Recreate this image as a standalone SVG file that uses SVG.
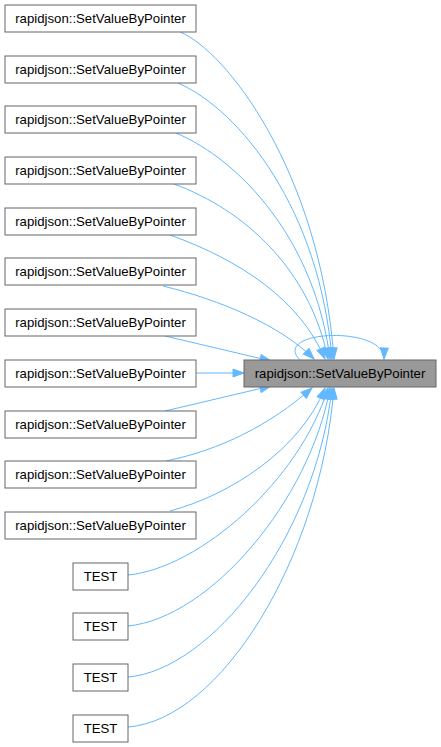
<svg xmlns="http://www.w3.org/2000/svg" width="441" height="747" viewBox="0 0 441 747">
<style>
.n rect{fill:#ffffff;stroke:#666666;stroke-width:1}
.m rect{fill:#999999;stroke:#666666;stroke-width:1}
text{font-family:"Liberation Sans",Arial,sans-serif;font-size:13.2px;fill:#000000;text-anchor:middle}
.e path{fill:none;stroke:#63b8ff;stroke-width:1;marker-end:url(#a)}
</style>
<defs>
<marker id="a" markerUnits="userSpaceOnUse" markerWidth="12" markerHeight="9" refX="11" refY="4" orient="auto" overflow="visible">
<path d="M0,0 L11,4 L0,8 z" fill="#63b8ff" stroke="#63b8ff" stroke-width="1"/>
</marker>
</defs>
<rect width="441" height="747" fill="#ffffff"/>
<g id="edges" class="e">
<path d="M180,32 C225,50 320,170 334,359"/>
<path d="M178,83 C240,110 320,210 332,359"/>
<path d="M176,133 C240,160 315,240 330,359"/>
<path d="M174,184 C245,210 310,270 328,359"/>
<path d="M170,235 C240,260 300,300 325,359"/>
<path d="M163,286 C220,300 280,325 314,359"/>
<path d="M165,336 L271,361"/>
<path d="M196,373 L244,373"/>
<path d="M165,411 L271,386"/>
<path d="M166,461 C220,450 270,425 312,388"/>
<path d="M170,511 C230,495 300,450 325,388"/>
<path d="M128,575 C200,568 300,480 328,388"/>
<path d="M128,626 C210,618 310,500 330,388"/>
<path d="M128,677 C210,670 315,540 332,388"/>
<path d="M128,727 C220,720 320,560 334,388"/>
<path d="M300,360 C270,330 385,325 384,359"/>
</g>
<g id="node0" class="n"><rect x="5" y="5" width="191" height="27"/><text x="100.5" y="23">rapidjson::SetValueByPointer</text></g>
<g id="node1" class="n"><rect x="5" y="56" width="191" height="27"/><text x="100.5" y="74">rapidjson::SetValueByPointer</text></g>
<g id="node2" class="n"><rect x="5" y="106" width="191" height="27"/><text x="100.5" y="124">rapidjson::SetValueByPointer</text></g>
<g id="node3" class="n"><rect x="5" y="157" width="191" height="27"/><text x="100.5" y="175">rapidjson::SetValueByPointer</text></g>
<g id="node4" class="n"><rect x="5" y="208" width="191" height="27"/><text x="100.5" y="226">rapidjson::SetValueByPointer</text></g>
<g id="node5" class="n"><rect x="5" y="258" width="191" height="27"/><text x="100.5" y="276">rapidjson::SetValueByPointer</text></g>
<g id="node6" class="n"><rect x="5" y="309" width="191" height="27"/><text x="100.5" y="327">rapidjson::SetValueByPointer</text></g>
<g id="node7" class="n"><rect x="5" y="360" width="191" height="27"/><text x="100.5" y="378">rapidjson::SetValueByPointer</text></g>
<g id="node8" class="n"><rect x="5" y="411" width="191" height="27"/><text x="100.5" y="429">rapidjson::SetValueByPointer</text></g>
<g id="node9" class="n"><rect x="5" y="461" width="191" height="27"/><text x="100.5" y="479">rapidjson::SetValueByPointer</text></g>
<g id="node10" class="n"><rect x="5" y="512" width="191" height="27"/><text x="100.5" y="530">rapidjson::SetValueByPointer</text></g>
<g id="test0" class="n"><rect x="73" y="563" width="55" height="27"/><text x="100.5" y="581">TEST</text></g>
<g id="test1" class="n"><rect x="73" y="613" width="55" height="27"/><text x="100.5" y="631">TEST</text></g>
<g id="test2" class="n"><rect x="73" y="664" width="55" height="27"/><text x="100.5" y="682">TEST</text></g>
<g id="test3" class="n"><rect x="73" y="715" width="55" height="27"/><text x="100.5" y="733">TEST</text></g>
<g id="main" class="m"><rect x="244" y="360" width="192" height="27"/><text x="340" y="378">rapidjson::SetValueByPointer</text></g>
</svg>
